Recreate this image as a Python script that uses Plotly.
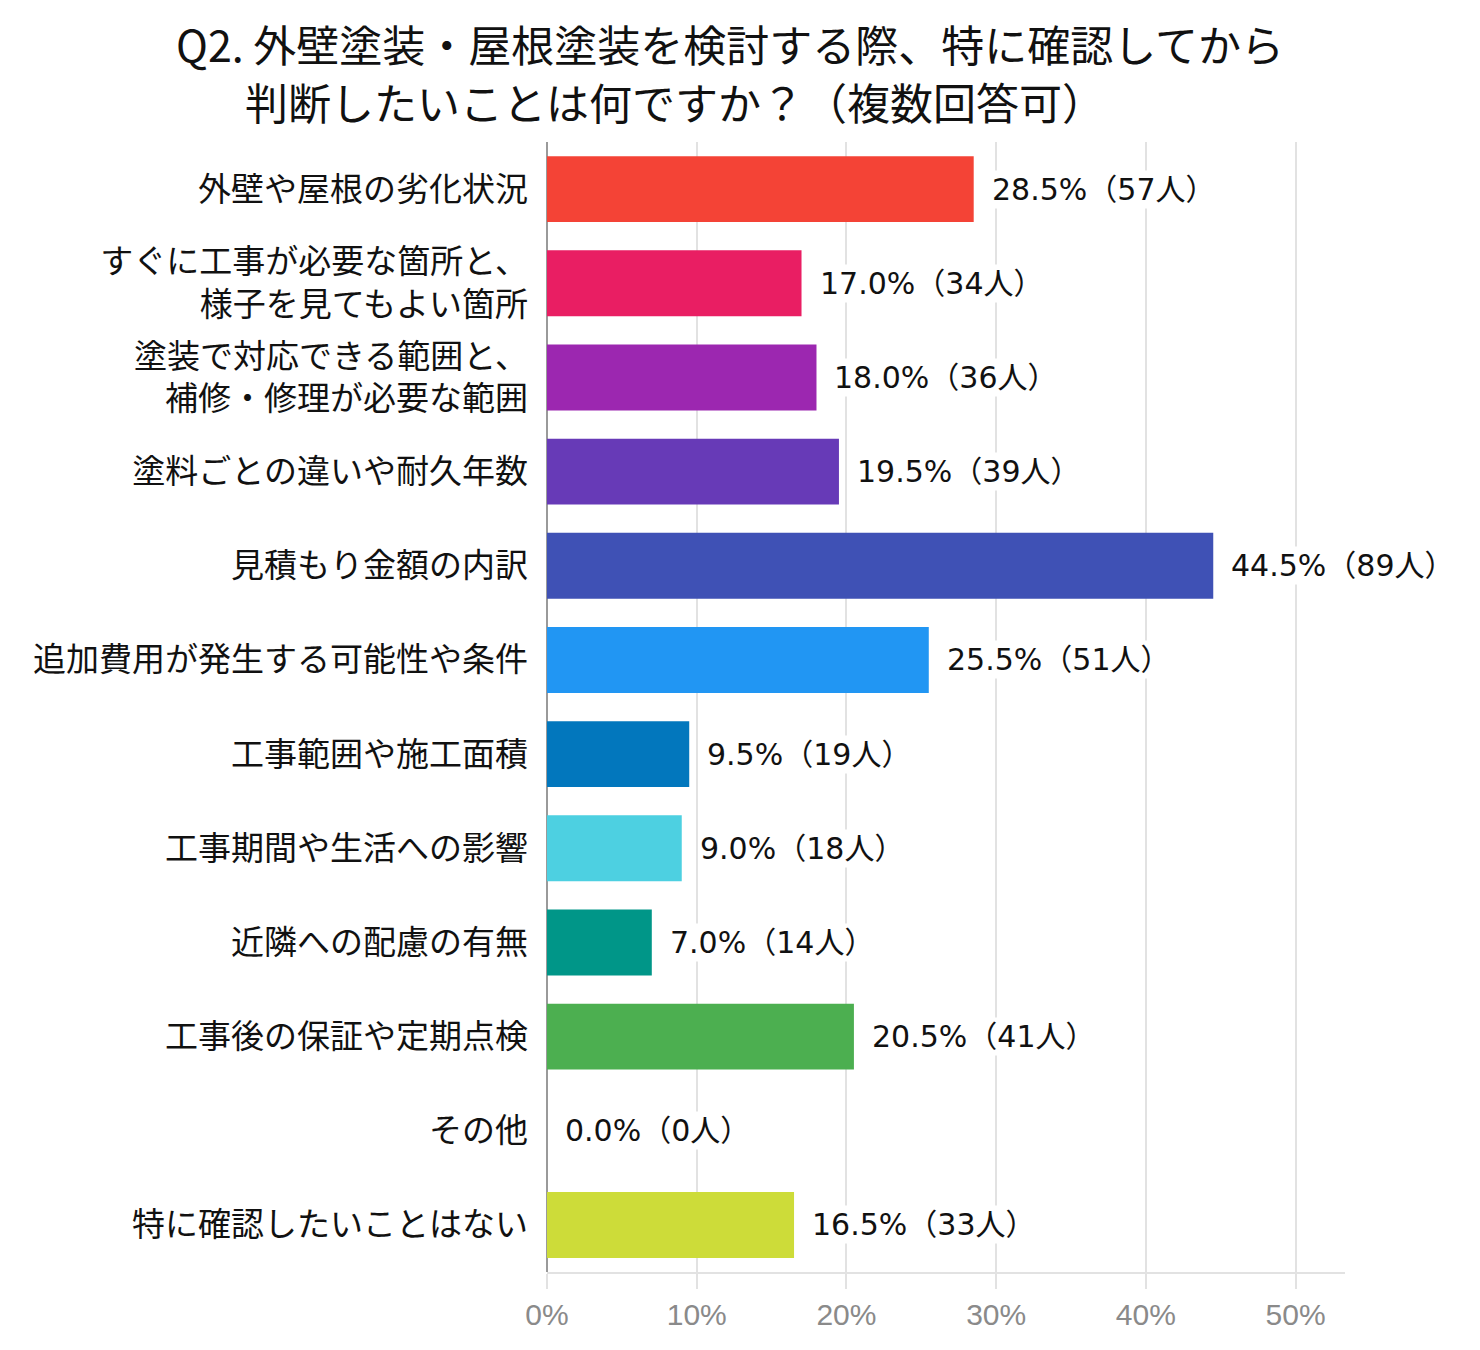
import plotly.graph_objects as go

# Q2 survey data (multiple answers, n=200)
categories = [
    "外壁や屋根の劣化状況",
    "すぐに工事が必要な箇所と、<br>様子を見てもよい箇所",
    "塗装で対応できる範囲と、<br>補修・修理が必要な範囲",
    "塗料ごとの違いや耐久年数",
    "見積もり金額の内訳",
    "追加費用が発生する可能性や条件",
    "工事範囲や施工面積",
    "工事期間や生活への影響",
    "近隣への配慮の有無",
    "工事後の保証や定期点検",
    "その他",
    "特に確認したいことはない",
]
percents = [28.5, 17.0, 18.0, 19.5, 44.5, 25.5, 9.5, 9.0, 7.0, 20.5, 0.0, 16.5]
counts = [57, 34, 36, 39, 89, 51, 19, 18, 14, 41, 0, 33]
colors = ["#F44336", "#E91E63", "#9C27B0", "#673AB7", "#3F51B5", "#2196F3",
          "#0277BD", "#4DD0E1", "#009688", "#4CAF50", "#FF9800", "#CDDC39"]
tick_vals = [0, 10, 20, 30, 40, 50]
tick_text = ["0%", "10%", "20%", "30%", "40%", "50%"]

title_line1 = "Q2. 外壁塗装・屋根塗装を検討する際、特に確認してから"
title_line2 = "判断したいことは何ですか？（複数回答可）"

jp_font = "Noto Sans CJK JP"

fig = go.Figure()
fig.add_trace(go.Bar(
    x=percents,
    y=categories,
    orientation="h",
    marker=dict(color=colors, line=dict(width=0)),
    hoverinfo="skip",
))

# value labels to the right of each bar
for p, c, cat in zip(percents, counts, categories):
    fig.add_annotation(
        x=p, y=cat, xref="x", yref="y",
        text=f"{p:.1f}%（{c}人）",
        showarrow=False, xanchor="left", yanchor="middle",
        xshift=16, bgcolor="white",
        font=dict(family="DejaVu Sans, " + jp_font, size=30, color="#111111"),
    )

# two-line title
fig.add_annotation(
    x=0.229, y=1.0876, xref="paper", yref="paper",
    text=title_line1, showarrow=False, xanchor="center", yanchor="middle",
    font=dict(family=jp_font, size=43, color="#111111"),
)
fig.add_annotation(
    x=0.160, y=1.0366, xref="paper", yref="paper",
    text=title_line2, showarrow=False, xanchor="center", yanchor="middle",
    font=dict(family=jp_font, size=43, color="#111111"),
)

fig.update_layout(
    width=1480,
    height=1350,
    paper_bgcolor="white",
    plot_bgcolor="white",
    showlegend=False,
    bargap=0.3,
    margin=dict(l=539, r=143, t=134, b=86, autoexpand=False),
    font=dict(family=jp_font),
)

fig.update_xaxes(
    range=[0, 53.3],
    tickmode="array",
    tickvals=tick_vals,
    ticktext=tick_text,
    showgrid=True, gridcolor="#E2E2E2", gridwidth=2,
    zeroline=True, zerolinecolor="#9A9A9A", zerolinewidth=2,
    showline=True, linecolor="#E2E2E2", linewidth=2,
    ticks="outside", ticklen=15, tickcolor="#E2E2E2", tickwidth=2,
    tickfont=dict(family="Liberation Sans", size=30, color="#8A8A8A"),
    fixedrange=True,
)
fig.update_yaxes(
    autorange="reversed",
    showgrid=False,
    ticks="",
    ticklabelstandoff=18,
    tickfont=dict(family=jp_font, size=33, color="#111111"),
    fixedrange=True,
)

fig.write_html("out.html")
